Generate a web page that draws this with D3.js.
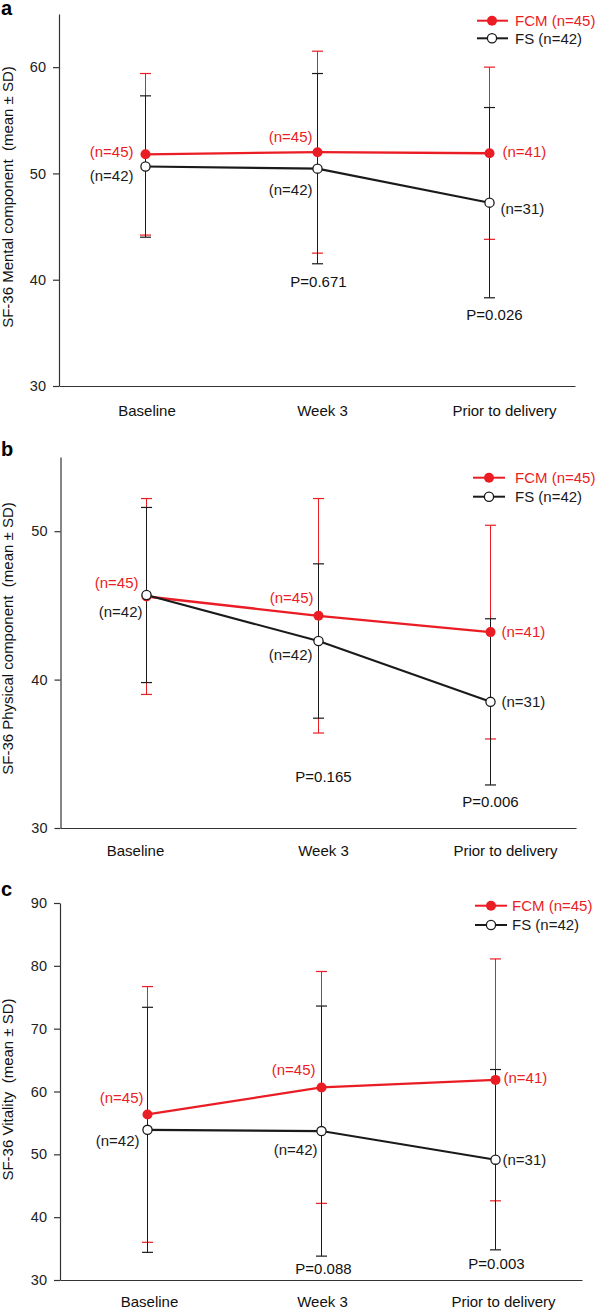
<!DOCTYPE html>
<html><head><meta charset="utf-8">
<script src="https://cdn.jsdelivr.net/npm/d3@7"></script>
<style>
body{margin:0;background:#fff}
svg text{font-family:"Liberation Sans",Arial,Helvetica,sans-serif}
</style></head><body>
<svg id="chart" width="596" height="1313"></svg>
<script>
// ---------- data ----------
const categories = ["Baseline", "Week 3", "Prior to delivery"];
const seriesNames = ["FCM (n=45)", "FS (n=42)"];
const fcmNLabels = ["(n=45)", "(n=45)", "(n=41)"];
const fsNLabels = ["(n=42)", "(n=42)", "(n=31)"];

// panel a: SF-36 Mental component
const mentalFCMMean = [51.8, 52.0, 51.9];
const mentalFCMSD = [7.6, 9.5, 8.1];
const mentalFSMean = [50.65, 50.45, 47.25];
const mentalFSSD = [6.65, 8.95, 8.95];
const mentalTicks = [30, 40, 50, 60];
const mentalP = ["", "P=0.671", "P=0.026"];

// panel b: SF-36 Physical component
const physicalFCMMean = [45.6, 44.3, 43.2];
const physicalFCMSD = [6.6, 7.9, 7.2];
const physicalFSMean = [45.7, 42.6, 38.5];
const physicalFSSD = [5.9, 5.2, 5.6];
const physicalTicks = [30, 40, 50];
const physicalP = ["", "P=0.165", "P=0.006"];

// panel c: SF-36 Vitality
const vitalityFCMMean = [56.35, 60.65, 61.85];
const vitalityFCMSD = [20.35, 18.45, 19.25];
const vitalityFSMean = [53.9, 53.7, 49.15];
const vitalityFSSD = [19.5, 19.9, 14.35];
const vitalityTicks = [30, 40, 50, 60, 70, 80, 90];
const vitalityP = ["", "P=0.088", "P=0.003"];

// ---------- styles ----------
const RED = "#ea1c24";
const BLACK = "#1a1a1a";
const AXIS = "#333";

const svg = d3.select("#chart");

function drawPanel(cfg) {
  const g = svg.append("g");
  const x = d3.scaleBand().domain(categories).range([cfg.xLeft, cfg.xRight]).paddingInner(0).paddingOuter(0);
  const cx = c => Math.round(x(c) + x.bandwidth() / 2) + 0.5;
  const y = d3.scaleLinear().domain(cfg.domain).range([cfg.yBottom, cfg.yTop]);

  // axes
  const ya = d3.axisLeft(y).tickValues(cfg.ticks).tickSize(6).tickSizeOuter(0).tickPadding(7).tickFormat(d3.format("d"));
  const yg = g.append("g").attr("transform", `translate(${cfg.xLeft},0)`).call(ya);
  yg.selectAll("path,line").attr("stroke", AXIS).attr("stroke-width", 1.2);
  yg.selectAll("text").attr("font-size", "14.5px").attr("fill", "#222")
    .style("font-family", '"Liberation Sans",Arial,sans-serif');

  const xa = d3.axisBottom(x).tickSize(0).tickSizeOuter(0).tickFormat("");
  const xg = g.append("g").attr("transform", `translate(0,${cfg.yBottom})`).call(xa);
  xg.selectAll("path").attr("stroke", AXIS).attr("stroke-width", 1.2);

  // category labels
  g.selectAll(".xl").data(categories).enter().append("text")
    .attr("x", (d, i) => cx(d) + cfg.xLabelDx[i])
    .attr("y", cfg.xLabelY)
    .attr("text-anchor", "middle").attr("font-size", "15px").attr("fill", "#111")
    .text(d => d);

  // y label
  g.append("text")
    .attr("transform", `translate(${cfg.yLabelX},${(cfg.yTop + cfg.yBottom) / 2 + cfg.yLabelShift}) rotate(-90)`)
    .attr("text-anchor", "middle").attr("font-size", "15px").attr("fill", "#111")
    .style("white-space", "pre")
    .text(cfg.yLabel);

  // panel letter
  g.append("text").attr("x", 1).attr("y", cfg.letterY)
    .attr("font-size", "20px").attr("font-weight", "bold").attr("fill", "#000")
    .text(cfg.letter);

  const fcm = categories.map((c, i) => ({c, i, m: cfg.fcmMean[i], sd: cfg.fcmSD[i]}));
  const fs = categories.map((c, i) => ({c, i, m: cfg.fsMean[i], sd: cfg.fsSD[i]}));
  const capW = 5.5;

  function errorBars(data, color) {
    const eg = g.append("g");
    eg.selectAll(".v").data(data).enter().append("line")
      .attr("x1", d => cx(d.c)).attr("x2", d => cx(d.c))
      .attr("y1", d => y(d.m - d.sd)).attr("y2", d => y(d.m + d.sd))
      .attr("stroke", color).attr("stroke-width", 1);
    ["top", "bot"].forEach(k => {
      eg.selectAll(".c" + k).data(data).enter().append("line")
        .attr("x1", d => cx(d.c) - capW).attr("x2", d => cx(d.c) + capW)
        .attr("y1", d => y(k === "top" ? d.m + d.sd : d.m - d.sd))
        .attr("y2", d => y(k === "top" ? d.m + d.sd : d.m - d.sd))
        .attr("stroke", color).attr("stroke-width", 1.2);
    });
  }
  errorBars(fcm, RED);
  errorBars(fs, BLACK);

  const line = d3.line().x(d => cx(d.c)).y(d => y(d.m));
  g.append("path").datum(fcm).attr("d", line).attr("fill", "none").attr("stroke", RED).attr("stroke-width", 2.3);
  g.append("path").datum(fs).attr("d", line).attr("fill", "none").attr("stroke", BLACK).attr("stroke-width", 2.1);

  g.selectAll(".pf").data(fcm).enter().append("circle")
    .attr("cx", d => cx(d.c)).attr("cy", d => y(d.m)).attr("r", 5).attr("fill", RED);
  g.selectAll(".ps").data(fs).enter().append("circle")
    .attr("cx", d => cx(d.c)).attr("cy", d => y(d.m)).attr("r", 4.6)
    .attr("fill", "#fff").attr("stroke", BLACK).attr("stroke-width", 1.3);

  // n labels
  function nLabels(data, labels, place, color) {
    g.selectAll(null).data(data).enter().append("text")
      .attr("x", d => cx(d.c) + place[d.i][0])
      .attr("y", d => y(d.m) + place[d.i][1])
      .attr("dy", "0.35em")
      .attr("text-anchor", d => place[d.i][2])
      .attr("font-size", "15px").attr("fill", color)
      .text(d => labels[d.i]);
  }
  nLabels(fcm, fcmNLabels, cfg.fcmPlace, RED);
  nLabels(fs, fsNLabels, cfg.fsPlace, BLACK);

  // P values
  g.selectAll(null).data(categories.map((c, i) => ({c, i}))).enter()
    .filter(d => cfg.pLabels[d.i] !== "")
    .append("text")
    .attr("x", d => cx(d.c) + cfg.pDx[d.i])
    .attr("y", d => Math.max(y(fcm[d.i].m - fcm[d.i].sd), y(fs[d.i].m - fs[d.i].sd)) + cfg.pDy[d.i])
    .attr("dy", "0.35em").attr("text-anchor", "middle")
    .attr("font-size", "15px").attr("fill", "#111")
    .text(d => cfg.pLabels[d.i]);

  // legend
  const lg = g.append("g");
  const rows = [{name: seriesNames[0], color: RED, fill: RED}, {name: seriesNames[1], color: BLACK, fill: "#fff"}];
  rows.forEach((r, k) => {
    const ry = cfg.legendY[k];
    lg.append("line").attr("x1", cfg.legendLine[0]).attr("x2", cfg.legendLine[1])
      .attr("y1", ry).attr("y2", ry).attr("stroke", r.color).attr("stroke-width", 2);
    lg.append("circle").attr("cx", cfg.legendMarker).attr("cy", ry)
      .attr("r", k === 0 ? 5 : 4.6).attr("fill", r.fill)
      .attr("stroke", k === 0 ? "none" : BLACK).attr("stroke-width", 1.3);
    lg.append("text").attr("x", cfg.legendText).attr("y", ry).attr("dy", "0.35em")
      .attr("font-size", "15px").attr("fill", r.color).text(r.name);
  });
}

drawPanel({
  letter: "a", letterY: 15,
  xLeft: 59, xRight: 575, yTop: 14, yBottom: 386, domain: [30, 65], ticks: mentalTicks,
  fcmMean: mentalFCMMean, fcmSD: mentalFCMSD, fsMean: mentalFSMean, fsSD: mentalFSSD,
  yLabel: "SF-36 Mental component  (mean \u00b1 SD)", yLabelX: 13, yLabelShift: -3,
  xLabelY: 415.5, xLabelDx: [1.5, 5, 15],
  fcmPlace: [[-12, -3, "end"], [-5, -15, "end"], [13, -1, "start"]],
  fsPlace: [[-12, 9, "end"], [-5, 21, "end"], [11, 6, "start"]],
  pLabels: mentalP, pDx: [0, 1, 5], pDy: [0, 18, 17],
  legendY: [20.7, 38.3], legendLine: [477, 508], legendMarker: 492, legendText: 515
});

drawPanel({
  letter: "b", letterY: 456,
  xLeft: 60.5, xRight: 576, yTop: 457, yBottom: 828, domain: [30, 55], ticks: physicalTicks,
  fcmMean: physicalFCMMean, fcmSD: physicalFCMSD, fsMean: physicalFSMean, fsSD: physicalFSSD,
  yLabel: "SF-36 Physical component  (mean \u00b1 SD)", yLabelX: 13, yLabelShift: -4,
  xLabelY: 855.5, xLabelDx: [-11, 5, 15],
  fcmPlace: [[-8, -14, "end"], [-5, -18, "end"], [11, 0, "start"]],
  fsPlace: [[-4, 17, "end"], [-6, 14, "end"], [11, 0, "start"]],
  pLabels: physicalP, pDx: [0, 5, 0], pDy: [0, 44, 17],
  legendY: [477.7, 496.7], legendLine: [473, 505], legendMarker: 489, legendText: 515
});

drawPanel({
  letter: "c", letterY: 896,
  xLeft: 60, xRight: 582, yTop: 903, yBottom: 1280, domain: [30, 90], ticks: vitalityTicks,
  fcmMean: vitalityFCMMean, fcmSD: vitalityFCMSD, fsMean: vitalityFSMean, fsSD: vitalityFSSD,
  yLabel: "SF-36 Vitality  (mean \u00b1 SD)", yLabelX: 13, yLabelShift: -2,
  xLabelY: 1306.5, xLabelDx: [2, 1, 8],
  fcmPlace: [[-4, -17, "end"], [-6, -18, "end"], [8, -2, "start"]],
  fsPlace: [[-8, 11, "end"], [-4, 19, "end"], [7, 0, "start"]],
  pLabels: vitalityP, pDx: [0, 2, 1], pDy: [0, 13, 14],
  legendY: [905.7, 925], legendLine: [475, 507], legendMarker: 491, legendText: 512
});
</script>
</body></html>
